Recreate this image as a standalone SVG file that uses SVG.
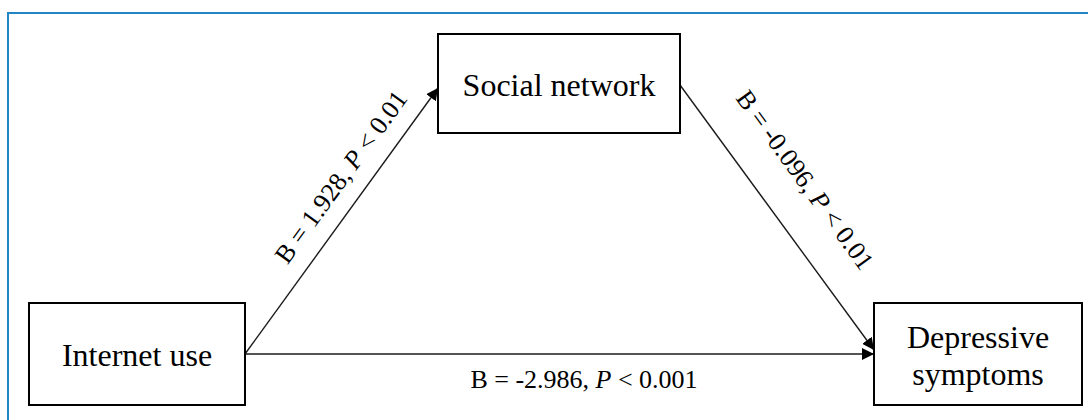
<svg xmlns="http://www.w3.org/2000/svg" width="1088" height="420" viewBox="0 0 1088 420">
<defs>
<style>
.box{fill:#fff;stroke:#000;stroke-width:2}
.lbl{font-family:"Liberation Serif","Times New Roman",serif;font-size:32px;fill:#000;text-anchor:middle}
.edge{stroke:#1a1a1a;stroke-width:1.4;fill:none}
.elbl{font-family:"Liberation Serif","Times New Roman",serif;font-size:26px;fill:#000;text-anchor:middle}
</style>
<marker id="arr" viewBox="0 0 12 12" refX="12" refY="6" markerWidth="12" markerHeight="12" markerUnits="userSpaceOnUse" orient="auto">
<path d="M0,0 L12,6 L0,12 Z" fill="#000"/>
</marker>
</defs>
<rect width="1088" height="420" fill="#fff"/>
<path d="M8,420 V13 H1088" fill="none" stroke="#2286c5" stroke-width="2"/>
<g id="connectors">
<line class="edge" x1="245" y1="354" x2="438" y2="88" marker-end="url(#arr)"/>
<line class="edge" x1="680" y1="85" x2="874" y2="350" marker-end="url(#arr)"/>
<line class="edge" x1="245" y1="354" x2="874" y2="354" marker-end="url(#arr)"/>
<text class="elbl" transform="translate(348,182) rotate(-54)">B = 1.928, <tspan font-style="italic">P</tspan> &lt; 0.01</text>
<text class="elbl" transform="translate(798,185) rotate(54)">B = -0.096, <tspan font-style="italic">P</tspan> &lt; 0.01</text>
<text class="elbl" x="584" y="388">B = -2.986, <tspan font-style="italic">P</tspan> &lt; 0.001</text>
</g>
<g id="node-social">
<rect class="box" x="438" y="34" width="242" height="99"/>
<text class="lbl" x="559" y="96">Social network</text>
</g>
<g id="node-internet">
<rect class="box" x="29" y="303" width="216" height="102"/>
<text class="lbl" x="137" y="366">Internet use</text>
</g>
<g id="node-depressive">
<rect class="box" x="874" y="303" width="208" height="102"/>
<text class="lbl" x="978" y="348">Depressive</text>
<text class="lbl" x="978" y="385">symptoms</text>
</g>
</svg>
